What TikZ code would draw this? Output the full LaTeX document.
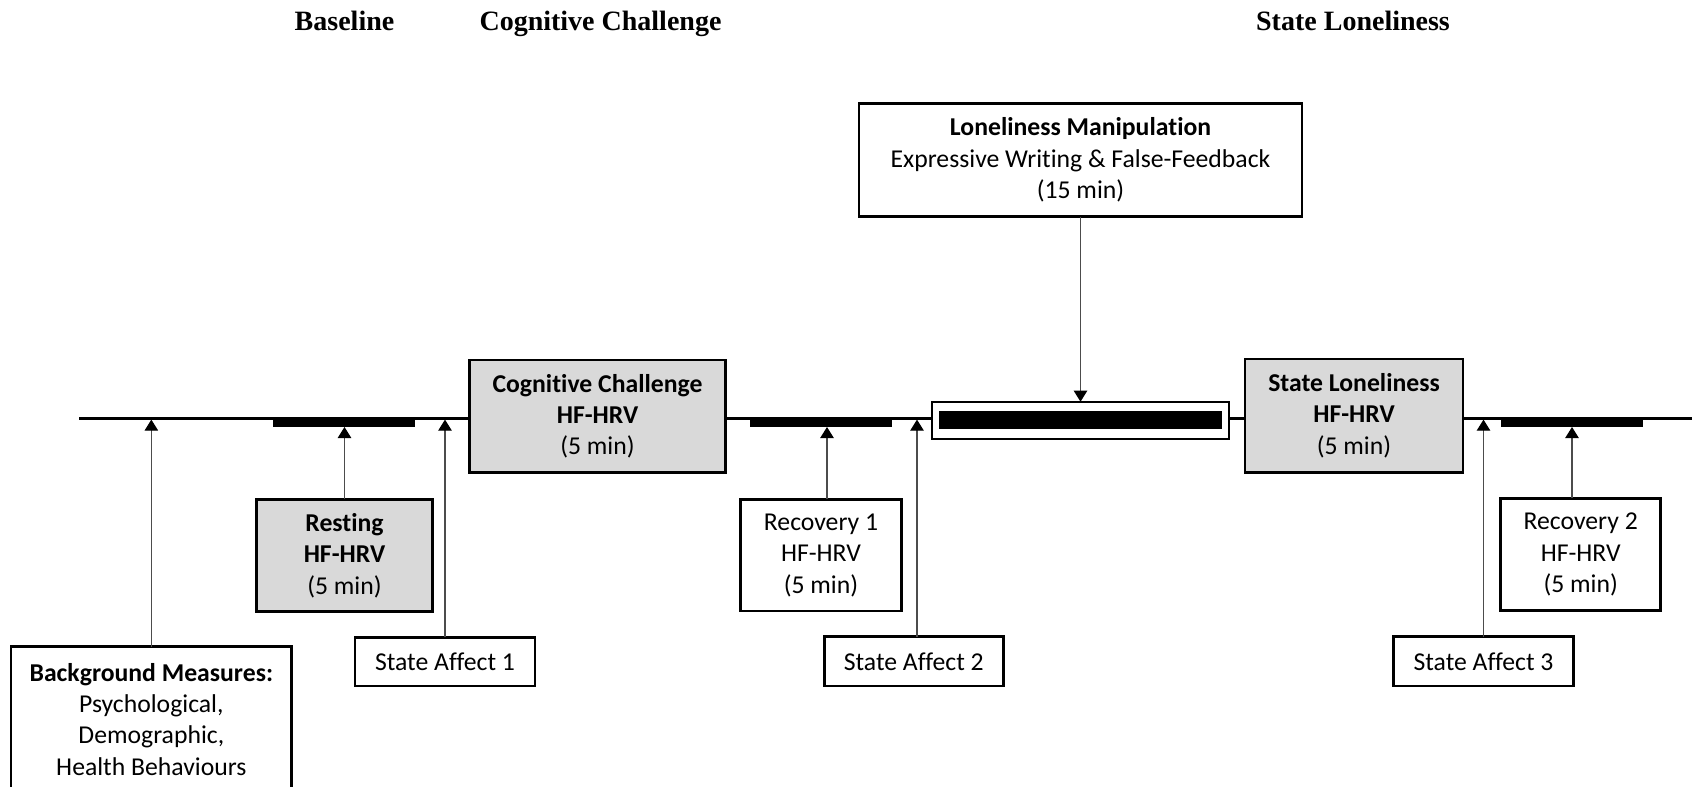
\documentclass[tikz,border=0pt]{standalone}
\usepackage{fontspec}
\setmainfont{Carlito}[Ligatures=NoCommon,Contextuals=NoAlternate,RawFeature={-clig;-dlig}]
\newfontfamily\titlefont{Liberation Serif}
\usetikzlibrary{arrows.meta}
\definecolor{boxgray}{RGB}{217,217,217}
\begin{document}
\begin{tikzpicture}[x=0.5pt,y=-0.5pt,
  every node/.style={inner sep=0pt, outer sep=0pt},
  box/.style={draw=black, line width=1.35pt, fill=white, align=center,
    font=\fontsize{12.85pt}{15.7pt}\selectfont},
  graybox/.style={box, fill=boxgray},
  barbox/.style={fill=black, draw=none, minimum height=5pt},
  conn/.style={draw=black!70, line width=0.6pt,
    -{Triangle[width=6.7pt,length=5.5pt,color=black]}},
  ttl/.style={font=\titlefont\bfseries\fontsize{14pt}{17pt}\selectfont, anchor=base},
  tline/.style={line width=1.3pt, draw=black}
]
\useasboundingbox (0,0) rectangle (1692,787);

% titles
\node[ttl] (tbase) at (344.5,31) {Baseline};
\node[ttl] (tcog) at (600.5,31) {Cognitive Challenge};
\node[ttl] (tsl) at (1353,31) {State Loneliness};

% timeline
\coordinate (tlL) at (79,418.3);
\coordinate (tlR) at (1692,418.3);
\coordinate (tlbot) at (0,419.6);
\draw[tline] (tlL) -- (tlR);

% bars
\node[barbox, minimum width=70.85pt] (bar1) at (344.15,422) {};
\node[barbox, minimum width=71.15pt] (bar2) at (821.15,422) {};
\node[barbox, minimum width=71.3pt] (bar3) at (1572,422) {};

% manipulation period on timeline
\node[draw=black, fill=white, line width=1pt, minimum width=148.5pt, minimum height=18.65pt] (manip) at (1080.2,420.35) {};
\node[barbox, minimum width=141.35pt, minimum height=9.15pt] (manipbar) at (1080.35,420.15) {};

% boxes
\node[box, minimum width=221.5pt, minimum height=56.7pt] (lm) at (1080.5,160)
  {\textbf{Loneliness Manipulation}\\Expressive Writing \& False-Feedback\\(15 min)};
\node[graybox, minimum width=128.2pt, minimum height=56.35pt] (cc) at (597.5,416.3)
  {\textbf{Cognitive Challenge}\\\textbf{HF-HRV}\\(5 min)};
\node[graybox, minimum width=109pt, minimum height=56.65pt] (sl) at (1354,415.7)
  {\textbf{State Loneliness}\\\textbf{HF-HRV}\\(5 min)};
\node[graybox, minimum width=87.8pt, minimum height=56.2pt] (rest) at (344.5,555.5)
  {\textbf{Resting}\\\textbf{HF-HRV}\\(5 min)};
\node[box, minimum width=80.3pt, minimum height=55.9pt] (rec1) at (821,555.2)
  {Recovery 1\\HF-HRV\\(5 min)};
\node[box, minimum width=80pt, minimum height=56.2pt] (rec2) at (1580.7,554.5)
  {Recovery 2\\HF-HRV\\(5 min)};
\node[box, minimum width=90pt, minimum height=24.35pt] (sa1) at (445,661.6) {State Affect 1};
\node[box, minimum width=89.5pt, minimum height=24.65pt] (sa2) at (913.8,661.3) {State Affect 2};
\node[box, minimum width=89.8pt, minimum height=24.65pt] (sa3) at (1483.5,661.3) {State Affect 3};

\begin{scope}
\clip (0,0) rectangle (1692,787);
\node[box, minimum width=140.35pt, minimum height=72.65pt] (bg) at (151.35,719.35)
  {\textbf{Background Measures:}\\Psychological,\\Demographic,\\Health Behaviours};
\end{scope}

% connectors
\draw[conn] (bg.north) -- (bg.north |- tlbot);
\draw[conn] (rest.north) -- (rest.north |- bar1.south);
\draw[conn] (sa1.north) -- (sa1.north |- tlbot);
\draw[conn] ([xshift=3pt]rec1.north) -- ([xshift=3pt]rec1.north |- bar2.south);
\draw[conn] ([xshift=1.6pt]sa2.north) -- ([xshift=1.6pt]sa2.north |- tlbot);
\draw[conn] (lm.south) -- (lm.south |- manip.north);
\draw[conn] (sa3.north) -- (sa3.north |- tlbot);
\draw[conn] (bar3.south |- rec2.north) -- (bar3.south);
\end{tikzpicture}
\end{document}
